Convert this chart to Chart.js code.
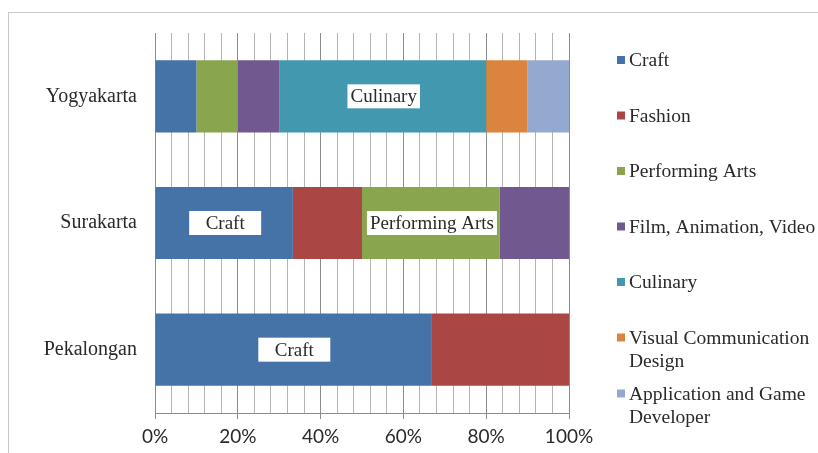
<!DOCTYPE html>
<html>
<head>
<meta charset="utf-8">
<script src="https://cdn.jsdelivr.net/npm/chart.js@4/dist/chart.umd.min.js"></script>
<style>
  html, body { margin: 0; padding: 0; background: #fff; }
  #wrap { width: 818px; height: 453px; position: relative; }
</style>
</head>
<body>
<div id="wrap"><canvas id="chart" width="818" height="453"></canvas></div>
<script>
const cities = ["Yogyakarta", "Surakarta", "Pekalongan"];
const sectors = ["Craft", "Fashion", "Performing Arts", "Film, Animation, Video", "Culinary", "Visual Communication Design", "Application and Game Developer"];
const craft = [10, 33.3, 66.7];
const fashion = [0, 16.7, 33.3];
const performingArts = [10, 33.3, 0];
const film = [10, 16.7, 0];
const culinary = [50, 0, 0];
const visualComm = [10, 0, 0];
const appGame = [10, 0, 0];
const colors = ["#4572a7", "#aa4643", "#89a54e", "#71588f", "#4198af", "#db843d", "#93a9cf"];
// segments that carry a boxed label: [sector index, city index]
const boxed = [[4, 0], [0, 1], [2, 1], [0, 2]];

const values = [craft, fashion, performingArts, film, culinary, visualComm, appGame];
const legendLines = [["Craft"], ["Fashion"], ["Performing Arts"], ["Film, Animation, Video"], ["Culinary"], ["Visual Communication", "Design"], ["Application and Game", "Developer"]];

const serif = "'Liberation Serif', 'Times New Roman', serif";

const extras = {
  id: 'extras',
  beforeDraw(chart) {
    const ctx = chart.ctx;
    ctx.save();
    ctx.strokeStyle = '#c8c8c8';
    ctx.lineWidth = 1;
    ctx.strokeRect(8.5, 12.5, 900, 500);
    ctx.restore();
  },
  afterDatasetsDraw(chart) {
    const ctx = chart.ctx;
    ctx.save();
    ctx.font = '19px ' + serif;
    ctx.textAlign = 'center';
    ctx.textBaseline = 'middle';
    boxed.forEach(([d, i]) => {
      const bar = chart.getDatasetMeta(d).data[i];
      const cx = (bar.x + bar.base) / 2 + 1;
      const txt = sectors[d];
      const w = Math.max(ctx.measureText(txt).width + 6, 72);
      ctx.fillStyle = '#fff';
      ctx.fillRect(cx - w / 2, bar.y - 12, w, 24);
      ctx.fillStyle = '#2a2a2a';
      ctx.fillText(txt, cx, bar.y + 1);
    });
    ctx.restore();
  },
  afterDraw(chart) {
    const ctx = chart.ctx;
    ctx.save();
    ctx.font = '19.5px ' + serif;
    ctx.textBaseline = 'middle';
    ctx.textAlign = 'left';
    let y = 60;
    legendLines.forEach((lines, k) => {
      ctx.fillStyle = colors[k];
      ctx.fillRect(617, y - 4, 8, 8);
      ctx.fillStyle = '#2a2a2a';
      lines.forEach((ln, j) => ctx.fillText(ln, 629, y + 1 + j * 23));
      y += k === 5 ? 56 : 55.5;
    });
    ctx.restore();
  }
};

new Chart(document.getElementById('chart'), {
  type: 'bar',
  data: {
    labels: cities,
    datasets: sectors.map((s, k) => ({
      label: s,
      data: values[k],
      backgroundColor: colors[k],
      borderWidth: 0,
      categoryPercentage: 0.57,
      barPercentage: 1
    }))
  },
  options: {
    indexAxis: 'y',
    responsive: false,
    animation: false,
    layout: { padding: { top: 33, right: 249, left: 0, bottom: 0 } },
    plugins: { legend: { display: false }, tooltip: { enabled: false } },
    scales: {
      x: {
        stacked: true,
        min: 0,
        max: 100,
        afterFit(scale) { scale.height = 40; },
        ticks: {
          stepSize: 4,
          autoSkip: false,
          maxRotation: 0,
          padding: 6,
          color: '#2a2a2a',
          font: { family: "Lato, 'Liberation Sans', sans-serif", size: 19 },
          callback: v => (v % 20 === 0 ? v + '%' : '')
        },
        grid: {
          color: ctx => (ctx.tick && ctx.tick.value % 20 === 0 ? '#8c8c8c' : '#b4b4b4'),
          tickColor: ctx => (ctx.tick && ctx.tick.value % 20 === 0 ? '#8c8c8c' : 'rgba(0,0,0,0)'),
          tickLength: 6,
          lineWidth: 1
        },
        border: { display: true, color: '#8c8c8c' }
      },
      y: {
        stacked: true,
        afterFit(scale) { scale.width = 155; },
        ticks: {
          padding: 10,
          color: '#2a2a2a',
          font: { family: serif, size: 20 }
        },
        grid: { display: false },
        border: { display: true, color: '#8c8c8c' }
      }
    }
  },
  plugins: [extras]
});
</script>
</body>
</html>
